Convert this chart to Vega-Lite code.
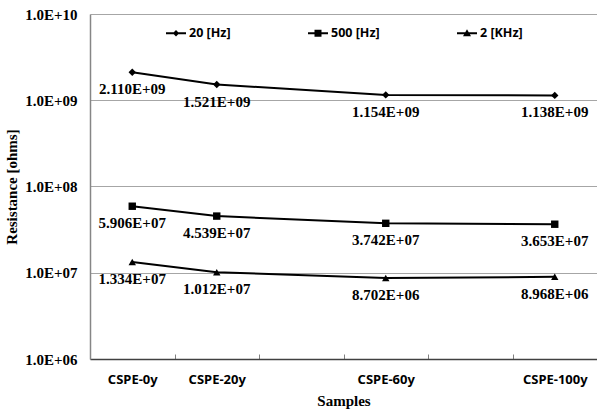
{
  "$schema": "https://vega.github.io/schema/vega-lite/v6.json",
  "width": 507,
  "height": 345,
  "autosize": {"type": "none"},
  "padding": {"left": 90, "top": 14, "right": 0, "bottom": 51},
  "background": "white",
  "config": {"view": {"stroke": null}},
  "data": {
    "values": [
      {"sample": 0, "series": "20 [Hz]", "resistance": 2110000000, "label": "2.110E+09"},
      {"sample": 20, "series": "20 [Hz]", "resistance": 1521000000, "label": "1.521E+09"},
      {"sample": 60, "series": "20 [Hz]", "resistance": 1154000000, "label": "1.154E+09"},
      {"sample": 100, "series": "20 [Hz]", "resistance": 1138000000, "label": "1.138E+09"},
      {"sample": 0, "series": "500 [Hz]", "resistance": 59060000, "label": "5.906E+07"},
      {"sample": 20, "series": "500 [Hz]", "resistance": 45390000, "label": "4.539E+07"},
      {"sample": 60, "series": "500 [Hz]", "resistance": 37420000, "label": "3.742E+07"},
      {"sample": 100, "series": "500 [Hz]", "resistance": 36530000, "label": "3.653E+07"},
      {"sample": 0, "series": "2 [KHz]", "resistance": 13340000, "label": "1.334E+07"},
      {"sample": 20, "series": "2 [KHz]", "resistance": 10120000, "label": "1.012E+07"},
      {"sample": 60, "series": "2 [KHz]", "resistance": 8702000, "label": "8.702E+06"},
      {"sample": 100, "series": "2 [KHz]", "resistance": 8968000, "label": "8.968E+06"}
    ]
  },
  "layer": [
    {
      "mark": {"type": "line", "color": "black", "strokeWidth": 2},
      "encoding": {
        "x": {
          "field": "sample", "type": "quantitative",
          "scale": {"domain": [-10, 110], "nice": false, "zero": false},
          "axis": {"values": [10, 30, 50, 70, 90], "labels": false, "grid": false, "title": null,
                   "domainColor": "#404040", "domainWidth": 1.5, "tickColor": "#808080", "tickSize": -5, "tickWidth": 1, "orient": "bottom"}
        },
        "y": {
          "field": "resistance", "type": "quantitative",
          "scale": {"type": "log", "domain": [1000000, 10000000000], "nice": false},
          "axis": {
            "values": [1000000, 10000000, 100000000, 1000000000, 10000000000],
            "labelExpr": "'1.0E+' + (round(log(datum.value)/LN10) < 10 ? '0' : '') + round(log(datum.value)/LN10)",
            "title": "Resistance [ohms]",
            "labelFont": "Liberation Serif", "labelFontSize": 15, "labelFontWeight": "bold", "labelColor": "black",
            "labelPadding": 13, "ticks": false,
            "domainColor": "#868686", "domainWidth": 1.5,
            "gridColor": "#a6a6a6", "gridWidth": 1,
            "titleFont": "Liberation Serif", "titleFontSize": 15, "titleFontWeight": "bold", "titleColor": "black",
            "titlePadding": 5
          }
        },
        "detail": {"field": "series"}
      }
    },
    {
      "mark": {"type": "point", "filled": true, "color": "black", "opacity": 1, "size": 55},
      "encoding": {
        "x": {"field": "sample", "type": "quantitative", "axis": null},
        "y": {"field": "resistance", "type": "quantitative"},
        "shape": {
          "field": "series", "type": "nominal",
          "scale": {"domain": ["20 [Hz]", "500 [Hz]", "2 [KHz]"], "range": ["diamond", "square", "triangle-up"]},
          "legend": null
        }
      }
    },
    {
      "mark": {"type": "point", "filled": true, "color": "black", "opacity": 1, "size": 0},
      "encoding": {
        "x": {"field": "sample", "type": "quantitative", "axis": null},
        "y": {"field": "resistance", "type": "quantitative"},
        "shape": {
          "field": "series", "type": "nominal",
          "scale": {"domain": ["20 [Hz]", "500 [Hz]", "2 [KHz]"],
                    "range": ["M-1,-0.1H1V0.1H-1Z M0,-0.32L0.32,0L0,0.32L-0.32,0Z",
                              "M-1,-0.1H1V0.1H-1Z M-0.35,-0.35H0.35V0.35H-0.35Z",
                              "M-1,-0.1H1V0.1H-1Z M0,-0.4L0.4,0.3L-0.4,0.3Z"]},
          "legend": {
            "title": null, "orient": "none", "legendX": 76, "legendY": 9, "direction": "horizontal",
            "padding": 0, "columnPadding": 77, "symbolSize": 400, "symbolOpacity": 1,
            "symbolFillColor": "black", "symbolStrokeWidth": 0,
            "labelFont": "Noto Sans", "labelFontSize": 12.5, "labelFontWeight": "bold", "labelColor": "black", "labelOffset": 3
          }
        }
      }
    },
    {
      "mark": {"type": "text", "font": "Liberation Serif", "fontSize": 15, "fontWeight": "bold", "dy": 22, "baseline": "alphabetic", "align": "center", "color": "black"},
      "encoding": {
        "x": {
          "field": "sample", "type": "quantitative",
          "axis": {
            "values": [0, 20, 60, 100], "labelExpr": "'CSPE-' + datum.value + 'y'",
            "ticks": false, "tickSize": 0, "domain": false, "grid": false, "orient": "bottom",
            "labelFont": "Noto Sans", "labelFontSize": 13, "labelFontWeight": "bold", "labelColor": "black", "labelPadding": 14,
            "title": "Samples", "titleFont": "Liberation Serif", "titleFontSize": 15, "titleFontWeight": "bold", "titleColor": "black", "titlePadding": 7
          }
        },
        "y": {"field": "resistance", "type": "quantitative"},
        "text": {"field": "label"}
      }
    }
  ],
  "resolve": {"axis": {"x": "independent"}, "scale": {"shape": "independent"}, "legend": {"shape": "independent"}}
}
